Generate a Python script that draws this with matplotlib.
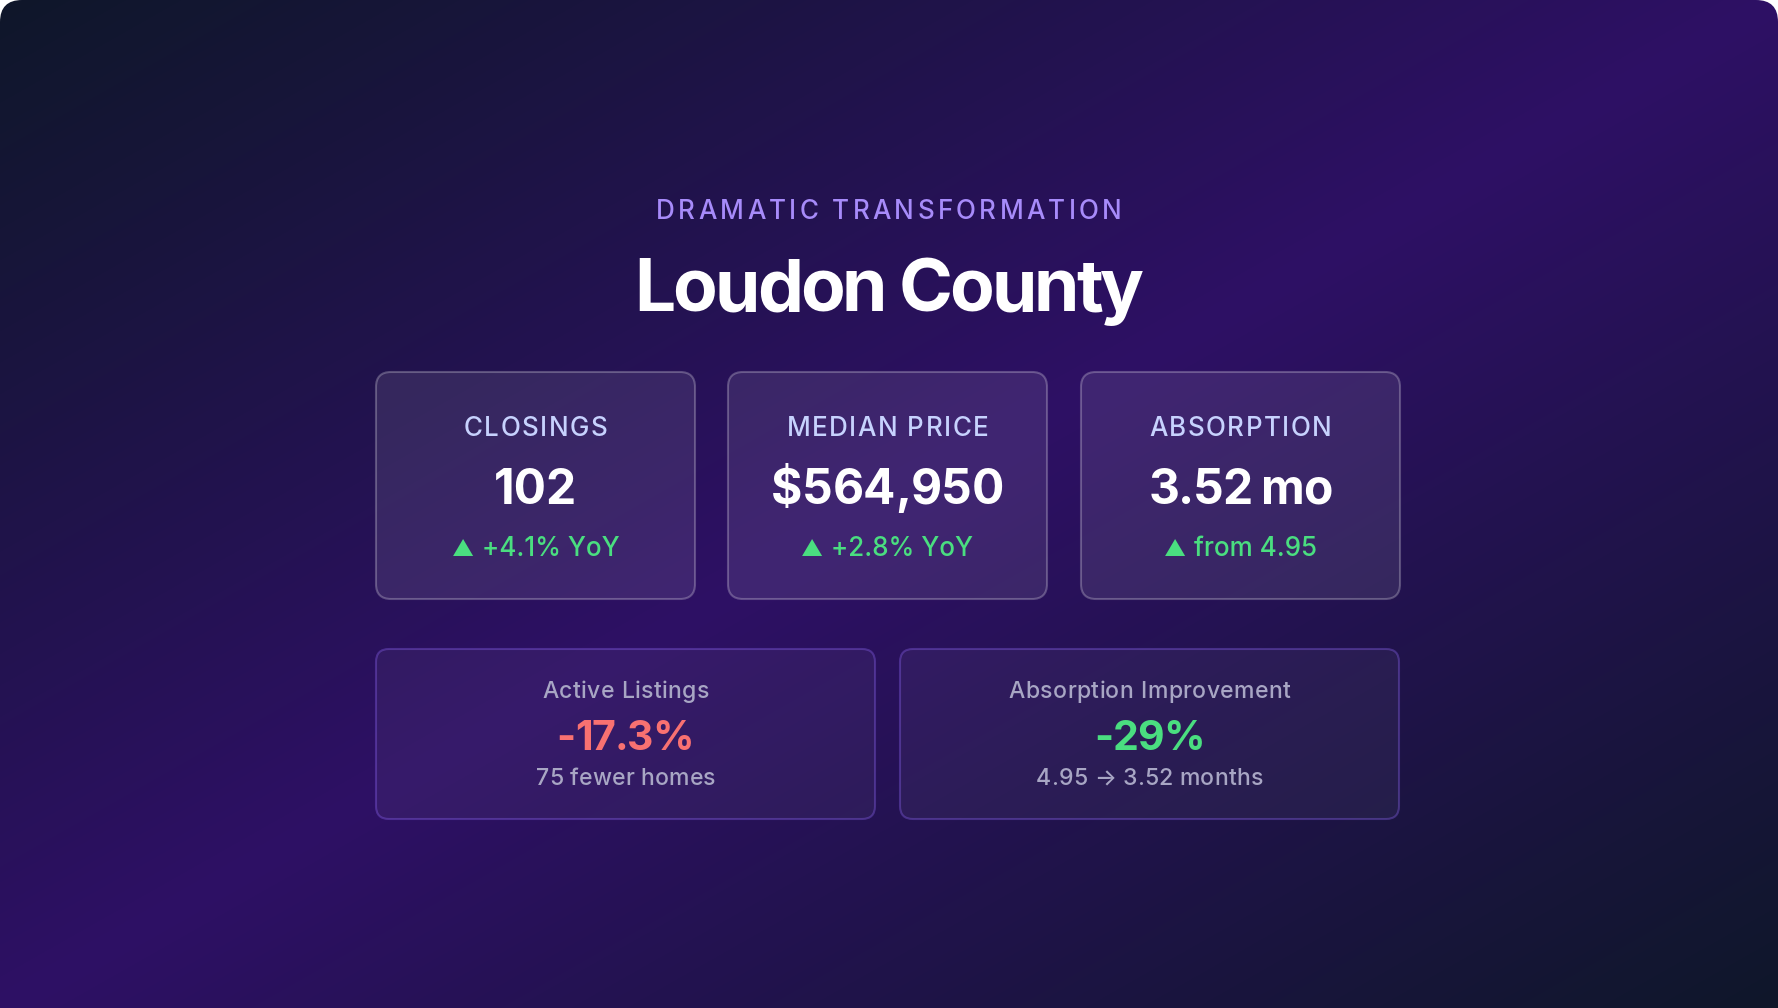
import numpy as np
import matplotlib
matplotlib.use("Agg")
import matplotlib.pyplot as plt
from matplotlib.patches import FancyBboxPatch
from matplotlib.colors import LinearSegmentedColormap
from matplotlib.font_manager import FontProperties
from matplotlib.textpath import text_to_path

# ---------------- data ----------------
eyebrow = "DRAMATIC TRANSFORMATION"
title = "Loudon County"
card_titles = ["CLOSINGS", "MEDIAN PRICE", "ABSORPTION"]
card_values = ["102", "$564,950", "3.52 mo"]
card_arrows = ["▲", "▲", "▲"]
card_changes = ["+4.1% YoY", "+2.8% YoY", "from 4.95"]
bottom_labels = ["Active Listings", "Absorption Improvement"]
bottom_values = ["-17.3%", "-29%"]
bottom_notes = ["75 fewer homes", "4.95 → 3.52 months"]
bottom_value_colors = ["#f87171", "#4ade80"]

W, H = 1778, 1008
DPI = 100
FAM = ["Inter", "DejaVu Sans"]

fig = plt.figure(figsize=(W / DPI, H / DPI), dpi=DPI, facecolor="white")
ax = fig.add_axes([0, 0, 1, 1])
ax.set_xlim(0, W)
ax.set_ylim(H, 0)
ax.axis("off")

# background gradient (135deg: dark -> purple -> dark)
yy, xx = np.mgrid[0:H, 0:W]
t = (xx / W + yy / H) / 2.0
cmap = LinearSegmentedColormap.from_list("bg", ["#0f172a", "#2e1065", "#0f172a"])
im = ax.imshow(t, cmap=cmap, vmin=0, vmax=1, extent=(0, W, H, 0), zorder=0,
               interpolation="bilinear")
clip = FancyBboxPatch((0, 0), W, H + 60, boxstyle="round,pad=0,rounding_size=22",
                      transform=ax.transData, facecolor="none", edgecolor="none")
ax.add_patch(clip)
im.set_clip_path(clip)


def px2pt(px):
    return px * 72.0 / DPI


def make_fp(size_px, weight="normal", family=FAM):
    return FontProperties(family=family, size=px2pt(size_px), weight=weight)


def text_w(s, fp):
    if not s:
        return 0.0
    w, h, d = text_to_path.get_text_width_height_descent(s, fp, ismath=False)
    return w * DPI / 72.0


def tracked_width(s, fp, track):
    return text_w(s, fp) + track * (len(s) - 1)


def draw_left(s, x0, base, fp, color, track=0.0):
    if track == 0:
        ax.text(x0, base, s, ha="left", va="baseline", color=color,
                fontproperties=fp, zorder=5)
        return
    for i, ch in enumerate(s):
        xi = x0 + text_w(s[:i], fp) + track * i
        ax.text(xi, base, ch, ha="left", va="baseline", color=color,
                fontproperties=fp, zorder=5)


def draw_center(s, cx, base, fp, color, track=0.0):
    x0 = cx - tracked_width(s, fp, track) / 2
    draw_left(s, x0, base, fp, color, track)


# header
draw_center(eyebrow, W / 2, 219, make_fp(26, "medium"), "#a78bfa", track=3.3)
draw_center(title, W / 2, 311, make_fp(73, "bold"), "white", track=-3.0)

# top cards
card_w, card_h = 319, 227
card_x = [376, 728, 1081]
card_y = 372
value_track = [0.0, -0.5, -1.5]
fp_ct = make_fp(26, "medium")
fp_val = make_fp(48, "bold")
fp_chg = make_fp(26, "medium")
fp_tri = make_fp(22)
for i in range(3):
    x = card_x[i]
    p = FancyBboxPatch((x, card_y), card_w, card_h,
                       boxstyle="round,pad=0,rounding_size=15",
                       facecolor=(1, 1, 1, 0.09), edgecolor=(1, 1, 1, 0.25),
                       linewidth=1.5, zorder=2)
    ax.add_patch(p)
    cx = x + card_w / 2
    draw_center(card_titles[i], cx, 436, fp_ct, "#c7d2fe", track=1.5)
    draw_center(card_values[i], cx, 504, fp_val, "white", track=value_track[i])
    gap = 8
    wt = text_w(card_arrows[i], fp_tri)
    wc = text_w(card_changes[i], fp_chg)
    x0 = cx - (wt + gap + wc) / 2
    draw_left(card_arrows[i], x0, 556, fp_tri, "#4ade80")
    draw_left(card_changes[i], x0 + wt + gap, 556, fp_chg, "#4ade80")

# bottom cards
b_w, b_h = 499, 170
b_x = [376, 900]
b_y = 649
fp_bl = make_fp(23, "medium")
fp_bv = make_fp(41, "bold")
for i in range(2):
    x = b_x[i]
    p = FancyBboxPatch((x, b_y), b_w, b_h,
                       boxstyle="round,pad=0,rounding_size=13",
                       facecolor=(1, 1, 1, 0.045), edgecolor=(0.55, 0.40, 0.95, 0.35),
                       linewidth=1.5, zorder=2)
    ax.add_patch(p)
    cx = x + b_w / 2
    draw_center(bottom_labels[i], cx, 698, fp_bl, "#a8a6c4", track=0.4)
    draw_center(bottom_values[i], cx, 750, fp_bv, bottom_value_colors[i], track=-1.0)
    draw_center(bottom_notes[i], cx, 785, fp_bl, "#a8a6c4", track=0.2)

fig.savefig("out.png", dpi=DPI, facecolor="white")
